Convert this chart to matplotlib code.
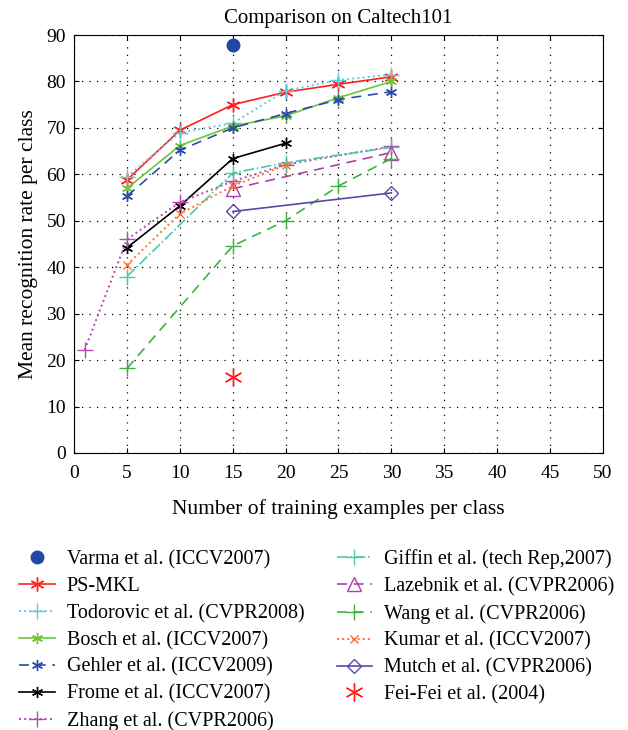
import matplotlib
matplotlib.use("Agg")
import matplotlib.pyplot as plt

plt.rcParams['font.family'] = ['Liberation Serif', 'DejaVu Serif']

title = "Comparison on Caltech101"
xlabel = "Number of training examples per class"
ylabel = "Mean recognition rate per class"

varma_x = [15]; varma_y = [87.8]
psmkl_x = [5, 10, 15, 20, 25, 30]; psmkl_y = [58.8, 69.5, 75.0, 77.7, 79.4, 81.0]
todo_x = [5, 10, 15, 20, 25, 30]; todo_y = [59.5, 69.0, 71.0, 78.0, 80.3, 81.5]
bosch_x = [5, 10, 15, 20, 25, 30]; bosch_y = [57.0, 66.2, 70.4, 72.6, 76.5, 80.0]
gehler_x = [5, 10, 15, 20, 25, 30]; gehler_y = [55.3, 65.2, 70.0, 73.1, 76.1, 77.8]
frome_x = [5, 10, 15, 20]; frome_y = [44.2, 53.2, 63.4, 66.7]
zhang_x = [1, 5, 10, 15, 20, 30]; zhang_y = [22.2, 46.0, 54.0, 58.5, 62.1, 66.0]
giffin_x = [5, 15, 20, 30]; giffin_y = [38.0, 60.3, 62.5, 65.8]
lazeb_x = [15, 30]; lazeb_y = [56.9, 64.7]
wang_x = [5, 15, 20, 25, 30]; wang_y = [18.2, 44.6, 50.0, 57.5, 63.4]
kumar_x = [5, 10, 15, 20]; kumar_y = [40.5, 51.5, 57.5, 62.0]
mutch_x = [15, 30]; mutch_y = [52.0, 56.0]
feifei_x = [15]; feifei_y = [16.4]

fig = plt.figure(figsize=(6.28, 7.30), dpi=100)
ax = fig.add_axes([0.118, 0.3795, 0.842, 0.5725])

ax.plot(varma_x, varma_y, 'o', color='#2446a6', ms=9, label='Varma et al. (ICCV2007)')
ax.plot(psmkl_x, psmkl_y, '-', marker=(6, 2, 0), color='#ff2020', ms=10, lw=1.2, label='PS-MKL')
ax.plot(todo_x, todo_y, ':', marker='+', color='#60c8e0', ms=11, lw=1.4, label='Todorovic et al. (CVPR2008)')
ax.plot(bosch_x, bosch_y, '-', marker=(6, 2, 0), color='#6cc63a', ms=8, lw=1.2, label='Bosch et al. (ICCV2007)')
ax.plot(gehler_x, gehler_y, '--', marker=(6, 2, 0), color='#2a4ea6', ms=8, lw=1.2, dashes=(6, 4), label='Gehler et al. (ICCV2009)')
ax.plot(frome_x, frome_y, '-', marker=(6, 2, 0), color='black', ms=8, lw=1.2, label='Frome et al. (ICCV2007)')
ax.plot(zhang_x, zhang_y, ':', marker='+', color='#b648b0', ms=11, lw=1.4, label='Zhang et al. (CVPR2006)')
ax.plot(giffin_x, giffin_y, '-.', marker='+', color='#4cc8a8', ms=11, lw=1.2, label='Giffin et al. (tech Rep,2007)')
ax.plot(lazeb_x, lazeb_y, '--', marker='^', mfc='none', color='#b040a8', ms=10, lw=1.2, dashes=(6, 4), label='Lazebnik et al. (CVPR2006)')
ax.plot(wang_x, wang_y, '--', marker='+', color='#3cb43c', ms=11, lw=1.2, dashes=(6, 4), label='Wang et al. (CVPR2006)')
ax.plot(kumar_x, kumar_y, ':', marker='x', color='#ff7030', ms=6, lw=1.4, label='Kumar et al. (ICCV2007)')
ax.plot(mutch_x, mutch_y, '-', marker='D', mfc='none', color='#5a48a8', ms=7, lw=1.2, label='Mutch et al. (CVPR2006)')
ax.plot(feifei_x, feifei_y, 'none', marker=(6, 2, 0), color='#ff2020', ms=13, lw=0, label='Fei-Fei et al. (2004)')

ax.set_xlim(0, 50)
ax.set_ylim(0, 90)
ax.set_xticks(range(0, 51, 5))
ax.set_yticks(range(0, 91, 10))
ax.grid(True, linestyle=(0, (1, 5)), color='black', lw=0.9)
ax.tick_params(direction='in', labelsize=14, top=True, right=True)
ax.tick_params(axis='x', pad=9)
ax.tick_params(axis='y', pad=6)
ax.set_title(title, fontsize=15, pad=9)
ax.set_xlabel(xlabel, fontsize=15.5, labelpad=12)
ax.set_ylabel(ylabel, fontsize=15.5, labelpad=6)

fig.legend(loc='upper left', bbox_to_anchor=(0.002, 0.272), ncol=2, frameon=False,
           fontsize=14.5, handlelength=1.75, columnspacing=1.6, labelspacing=0.38,
           handletextpad=0.6)

fig.savefig('out.png', dpi=100)
